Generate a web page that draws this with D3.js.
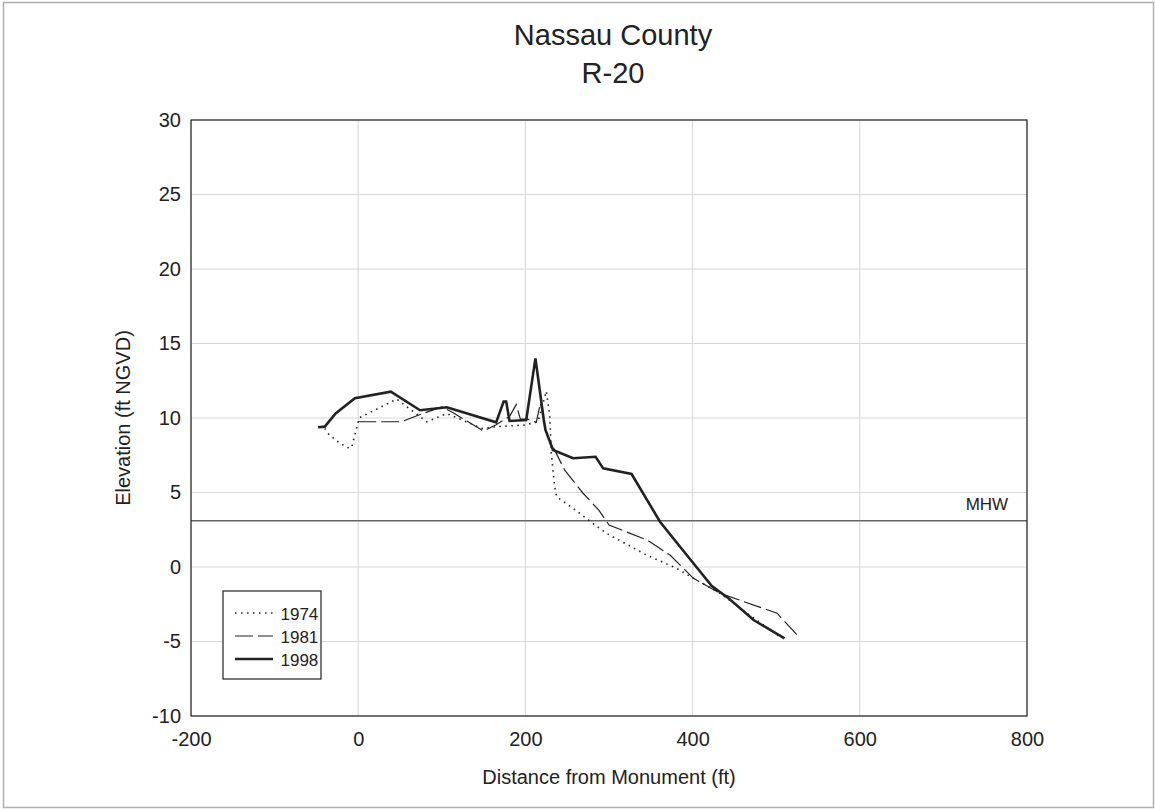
<!DOCTYPE html>
<html>
<head>
<meta charset="utf-8">
<script src="https://cdn.jsdelivr.net/npm/d3@7"></script>
<style>
  body { margin: 0; background: #fff; }
  svg { display: block; font-family: "Liberation Sans", Arial, sans-serif; }
</style>
</head>
<body>
<div class="viz"></div>
<script>
// profile surveys, distance from monument (ft) vs elevation (ft NGVD)
var years = ['1974', '1981', '1998'];

var x1974 = [-40, -35, -22, -12, -8, -2, 1, 46, 82, 106, 148, 166, 200, 215, 225, 229, 230, 231, 235, 237.5, 257, 285, 297, 345, 381, 401, 433, 470, 505];
var y1974 = [9.3, 8.9, 8.3, 8.0, 8.0, 9.3, 10.0, 11.27, 9.75, 10.3, 9.3, 9.42, 9.53, 9.75, 11.8, 10.2, 9.0, 7.6, 5.4, 4.7, 3.94, 2.75, 2.26, 0.8, -0.09, -0.76, -1.77, -3.3, -4.7];

var x1981 = [0, 52, 75, 100, 112, 150, 165, 181, 189, 194, 202, 213, 218, 225, 233, 247, 269, 288, 300, 313, 347, 373, 401, 433, 501, 525];
var y1981 = [9.75, 9.75, 10.25, 10.75, 10.4, 9.13, 9.55, 10.1, 10.9, 9.93, 9.93, 9.71, 11.0, 9.0, 8.07, 6.5, 4.95, 3.8, 2.82, 2.53, 1.77, 0.8, -0.76, -1.77, -3.1, -4.56];

var x1998 = [-48, -40, -27, -4, 39, 74, 106, 165, 174, 177, 181, 201, 212, 222, 224, 233, 257, 284, 293, 327, 361, 385, 423, 443, 473, 510];
var y1998 = [9.38, 9.42, 10.3, 11.32, 11.77, 10.52, 10.72, 9.71, 11.1, 11.1, 9.8, 9.87, 14.0, 9.87, 9.2, 7.85, 7.3, 7.4, 6.62, 6.24, 3.04, 1.36, -1.28, -2.1, -3.56, -4.79];

var mhw = 3.1;
var xTicks = [-200, 0, 200, 400, 600, 800];
var yTicks = [-10, -5, 0, 5, 10, 15, 20, 25, 30];

var W = 1155, H = 809;
var margin = {top: 120, right: 128, bottom: 93, left: 191};
var width = W - margin.left - margin.right,
    height = H - margin.top - margin.bottom;

var svg = d3.select('.viz').append('svg')
    .attr('width', W)
    .attr('height', H);

// outer frame
svg.append('rect')
    .attr('x', 3.5).attr('y', 2.5)
    .attr('width', 1150).attr('height', 805)
    .attr('fill', 'none')
    .attr('stroke', '#b0b0b0')
    .attr('stroke-width', 1.5);

var x = d3.scaleLinear().domain([-200, 800]).range([0, width]);
var y = d3.scaleLinear().domain([-10, 30]).range([height, 0]);

var g = svg.append('g')
    .attr('transform', 'translate(' + margin.left + ',' + margin.top + ')');

// grid
g.selectAll('.vgrid')
    .data(xTicks)
    .enter().append('line')
    .attr('x1', d => x(d)).attr('x2', d => x(d))
    .attr('y1', 0).attr('y2', height)
    .attr('stroke', '#d6d6d6').attr('stroke-width', 1);

g.selectAll('.hgrid')
    .data(yTicks)
    .enter().append('line')
    .attr('x1', 0).attr('x2', width)
    .attr('y1', d => y(d)).attr('y2', d => y(d))
    .attr('stroke', '#d6d6d6').attr('stroke-width', 1);

// axes (plain hyphen for negatives, like the original)
var fmt = d => String(d);
var xAxis = g.append('g')
    .attr('transform', 'translate(0,' + height + ')')
    .call(d3.axisBottom(x).tickValues(xTicks).tickFormat(fmt).tickSize(0).tickPadding(16));
var yAxis = g.append('g')
    .call(d3.axisLeft(y).tickValues(yTicks).tickFormat(fmt).tickSize(0).tickPadding(10));
[xAxis, yAxis].forEach(function (a) {
    a.select('.domain').remove();
    a.selectAll('text')
        .attr('font-family', '"Liberation Sans", Arial, sans-serif')
        .attr('font-size', 20)
        .attr('fill', '#222');
});

// MHW
g.append('line')
    .attr('x1', 0).attr('x2', width)
    .attr('y1', y(mhw)).attr('y2', y(mhw))
    .attr('stroke', '#666').attr('stroke-width', 1.5);
g.append('text')
    .attr('x', x(752)).attr('y', y(mhw) - 11)
    .attr('text-anchor', 'middle')
    .attr('font-size', 17)
    .attr('fill', '#222')
    .text('MHW');

// profiles
var styles = {
    '1974': {w: 1.6, dash: '1.5,4.5'},
    '1981': {w: 1.2, dash: '18,5'},
    '1998': {w: 2.6, dash: null}
};
var series = [
    {year: '1974', xs: x1974, ys: y1974},
    {year: '1981', xs: x1981, ys: y1981},
    {year: '1998', xs: x1998, ys: y1998}
];

var line = d3.line()
    .x(d => x(d[0]))
    .y(d => y(d[1]));

series.forEach(function (s) {
    var pts = s.xs.map((v, i) => [v, s.ys[i]]);
    var st = styles[s.year];
    g.append('path')
        .datum(pts)
        .attr('d', line)
        .attr('fill', 'none')
        .attr('stroke', '#222')
        .attr('stroke-width', st.w)
        .attr('stroke-linejoin', 'miter')
        .attr('stroke-dasharray', st.dash);
});

// plot frame
g.append('rect')
    .attr('x', 0).attr('y', 0)
    .attr('width', width).attr('height', height)
    .attr('fill', 'none')
    .attr('stroke', '#222').attr('stroke-width', 1.2);

// legend
var lg = svg.append('g').attr('transform', 'translate(223,591)');
lg.append('rect')
    .attr('width', 98).attr('height', 88)
    .attr('fill', '#fff')
    .attr('stroke', '#222').attr('stroke-width', 1.2);
years.forEach(function (yr, i) {
    var st = styles[yr];
    var yy = 22 + i * 23;
    lg.append('line')
        .attr('x1', 12).attr('x2', 50)
        .attr('y1', yy).attr('y2', yy)
        .attr('stroke', '#222')
        .attr('stroke-width', st.w)
        .attr('stroke-dasharray', st.dash);
    lg.append('text')
        .attr('x', 57.5).attr('y', yy + 7)
        .attr('font-size', 17)
        .attr('fill', '#222')
        .text(yr);
});

// titles
svg.append('text')
    .attr('x', 613).attr('y', 45)
    .attr('text-anchor', 'middle')
    .attr('font-size', 29)
    .attr('fill', '#222')
    .text('Nassau County');
svg.append('text')
    .attr('x', 613).attr('y', 83)
    .attr('text-anchor', 'middle')
    .attr('font-size', 29)
    .attr('fill', '#222')
    .text('R-20');

svg.append('text')
    .attr('x', margin.left + width / 2).attr('y', 784)
    .attr('text-anchor', 'middle')
    .attr('font-size', 20)
    .attr('fill', '#222')
    .text('Distance from Monument (ft)');

svg.append('text')
    .attr('transform', 'translate(130,' + (margin.top + height / 2) + ') rotate(-90)')
    .attr('text-anchor', 'middle')
    .attr('font-size', 20)
    .attr('fill', '#222')
    .text('Elevation (ft NGVD)');
</script>
</body>
</html>
